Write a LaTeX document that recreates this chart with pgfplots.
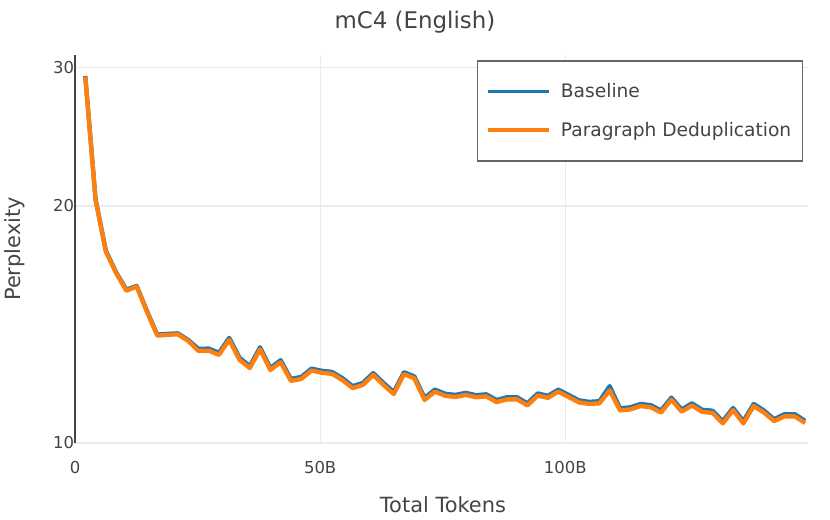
\documentclass[border=0pt]{standalone}
\usepackage{fontspec}
\setmainfont{DejaVu Sans}
\usepackage{pgfplots}
\pgfplotsset{compat=1.18}
\definecolor{plotBlue}{HTML}{1F77B4}
\definecolor{plotOrange}{HTML}{FF7F0E}
\definecolor{textGray}{HTML}{444444}
\definecolor{gridGray}{HTML}{EBEBEB}

% perplexity vs total tokens (billions), one checkpoint every ~2.097B tokens
\pgfplotstableread{
x        base   dedup
2.097    29.25  29.20
4.194    20.40  20.36
6.291    17.55  17.50
8.389    16.47  16.43
10.486   15.66  15.61
12.583   15.83  15.80
14.680   14.71  14.67
16.777   13.73  13.69
18.874   13.76  13.72
20.972   13.78  13.74
23.069   13.52  13.48
25.166   13.17  13.09
27.263   13.18  13.10
29.360   13.02  12.94
31.457   13.60  13.52
33.554   12.83  12.75
35.652   12.52  12.45
37.749   13.23  13.15
39.846   12.45  12.38
41.943   12.74  12.66
44.040   12.06  11.99
46.137   12.13  12.06
48.235   12.43  12.36
50.332   12.35  12.28
52.429   12.31  12.24
54.526   12.09  12.02
56.623   11.81  11.74
58.720   11.92  11.85
60.817   12.27  12.20
62.915   11.92  11.85
65.012   11.61  11.54
67.109   12.30  12.23
69.206   12.15  12.08
71.303   11.41  11.34
73.400   11.69  11.62
75.497   11.55  11.48
77.595   11.51  11.44
79.692   11.58  11.51
81.789   11.50  11.43
83.886   11.53  11.46
85.983   11.34  11.27
88.080   11.43  11.36
90.178   11.43  11.36
92.275   11.23  11.16
94.372   11.56  11.49
96.469   11.48  11.41
98.566   11.69  11.62
100.663  11.51  11.44
102.760  11.33  11.26
104.858  11.28  11.21
106.955  11.30  11.23
109.052  11.81  11.66
111.149  11.07  11.00
113.246  11.10  11.03
115.343  11.21  11.14
117.441  11.17  11.10
119.538  11.00  10.93
121.635  11.42  11.35
123.732  11.03  10.96
125.829  11.23  11.16
127.926  11.02  10.95
130.023  10.99  10.92
132.121  10.66  10.59
134.218  11.08  11.01
136.315  10.66  10.59
138.412  11.21  11.14
140.509  11.00  10.93
142.606  10.72  10.66
144.704  10.88  10.81
146.801  10.88  10.81
148.898  10.67  10.60
}\pplx

\begin{document}
\begin{tikzpicture}
\useasboundingbox (-75bp,-77bp) rectangle (755bp,443bp);
\begin{axis}[
  scale only axis,
  width=733bp, height=388bp,
  xmin=0, xmax=149.5,
  ymode=log, ymin=10, ymax=31.1,
  xtick={0,50,100}, xticklabels={0,50B,100B},
  ytick={10,20,30}, yticklabels={10,20,30},
  minor ytick={}, minor xtick={},
  log basis y=10,
  xmajorgrids, ymajorgrids,
  major grid style={draw=gridGray, line width=1.3bp},
  major tick length=0pt,
  separate axis lines,
  x axis line style={draw=none},
  y axis line style={draw=textGray, line width=2bp, -},
  axis x line*=bottom, axis y line*=left,
  tick label style={font=\fontsize{16.5}{19}\selectfont, text=textGray},
  /pgf/number format/assume math mode=true,
  xticklabel style={yshift=-15bp},
  yticklabel style={xshift=2.5bp},
  title={mC4 (English)},
  title style={at={(rel axis cs:0.4638,1.069)}, anchor=center,
               font=\fontsize{23}{27}\selectfont, text=textGray},
  xlabel={Total Tokens},
  xlabel style={at={(rel axis cs:0.502,-0.160)}, anchor=center,
                font=\fontsize{21}{25}\selectfont, text=textGray},
  ylabel={Perplexity},
  ylabel style={at={(rel axis cs:-0.0819,0.5)}, anchor=center, rotate=0,
                font=\fontsize{21}{25}\selectfont, text=textGray},
  legend style={at={(rel axis cs:0.9932,0.987)}, anchor=north east,
                draw=black!60, line width=1.5bp, fill=white,
                inner xsep=9bp, inner ysep=21bp, row sep=19bp,
                column sep=8bp,
                font=\fontsize{18.7}{21}\selectfont, text=textGray},
  legend cell align=left,
  legend image code/.code={\draw[#1, line width=3.5bp] (0bp,0bp) -- (61bp,0bp);},
]
  \addplot[plotBlue, line width=4.3bp, line join=round] table[x=x, y=base] {\pplx};
  \addplot[plotOrange, line width=4.3bp, line join=round] table[x=x, y=dedup] {\pplx};
  \legend{Baseline, Paragraph Deduplication}
\end{axis}
\end{tikzpicture}
\end{document}
